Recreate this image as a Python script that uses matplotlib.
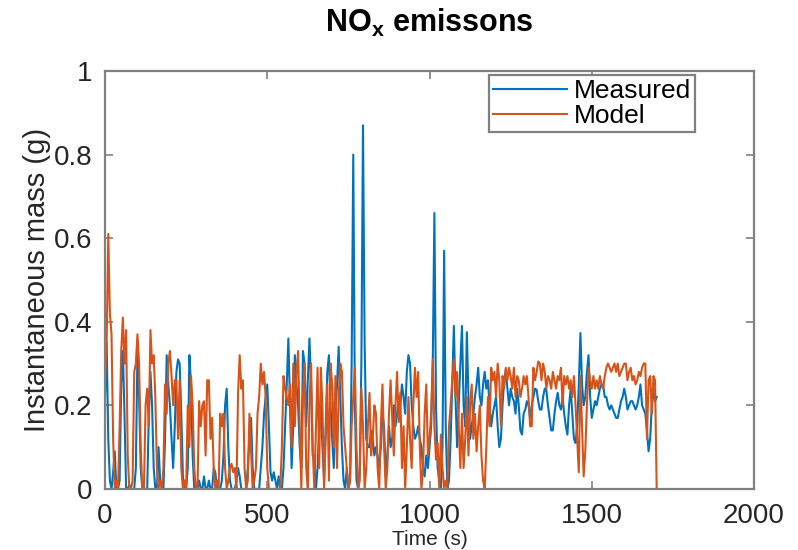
import numpy as np
import matplotlib
matplotlib.use('Agg')
import matplotlib.pyplot as plt

# NOx emissions, sampled every 5 s from 0 to 1700 s
time_step = 5
measured = [
    0.22, 0.35, 0.12, 0.02, 0.0, 0.04, 0.09, 0.0, 0.0, 0.02, 0.25, 0.33, 0.18, 0.0, 0.0, 0.01, 0.0, 0.0, 0.0, 0.05,
    0.33, 0.22, 0.05, 0.0, 0.0, 0.0, 0.0, 0.18, 0.28, 0.2, 0.05, 0.0, 0.0, 0.10, 0.02, 0.0, 0.0, 0.12, 0.32, 0.25,
    0.20, 0.12, 0.05, 0.15, 0.28, 0.31, 0.30, 0.18, 0.03, 0.0, 0.0, 0.05, 0.32, 0.25, 0.08, 0.0, 0.0, 0.0, 0.02, 0.0,
    0.0, 0.03, 0.0, 0.0, 0.02, 0.0, 0.0, 0.05, 0.04, 0.0, 0.0, 0.0, 0.02, 0.08, 0.20, 0.24, 0.10, 0.02, 0.0, 0.0,
    0.0, 0.02, 0.05, 0.03, 0.0, 0.0, 0.0, 0.0, 0.05, 0.12, 0.17, 0.05, 0.0, 0.0, 0.0, 0.0, 0.05, 0.10, 0.18, 0.22,
    0.25, 0.15, 0.04, 0.02, 0.04, 0.02, 0.0, 0.03, 0.0, 0.0, 0.05, 0.15, 0.25, 0.36, 0.20, 0.05, 0.15, 0.32, 0.25, 0.20,
    0.10, 0.05, 0.33, 0.30, 0.15, 0.26, 0.36, 0.25, 0.08, 0.08, 0.0, 0.05, 0.15, 0.20, 0.10, 0.02, 0.15, 0.28, 0.32, 0.20,
    0.12, 0.05, 0.18, 0.25, 0.34, 0.22, 0.10, 0.02, 0.0, 0.05, 0.0, 0.02, 0.30, 0.80, 0.20, 0.02, 0.0, 0.05, 0.30, 0.87,
    0.35, 0.12, 0.10, 0.10, 0.14, 0.12, 0.08, 0.10, 0.08, 0.05, 0.10, 0.18, 0.15, 0.03, 0.08, 0.15, 0.10, 0.12, 0.20, 0.15,
    0.18, 0.22, 0.20, 0.25, 0.22, 0.18, 0.28, 0.32, 0.30, 0.20, 0.15, 0.12, 0.13, 0.15, 0.12, 0.10, 0.05, 0.03, 0.08, 0.05,
    0.10, 0.15, 0.30, 0.66, 0.20, 0.05, 0.02, 0.0, 0.10, 0.57, 0.15, 0.0, 0.02, 0.12, 0.25, 0.39, 0.22, 0.10, 0.20, 0.30,
    0.39, 0.20, 0.15, 0.375, 0.22, 0.12, 0.15, 0.18, 0.22, 0.25, 0.29, 0.22, 0.20, 0.25, 0.28, 0.24, 0.26, 0.20, 0.15, 0.18,
    0.20, 0.22, 0.15, 0.10, 0.12, 0.20, 0.26, 0.285, 0.24, 0.20, 0.24, 0.22, 0.21, 0.18, 0.24, 0.20, 0.14, 0.13, 0.18, 0.19,
    0.21, 0.20, 0.17, 0.20, 0.22, 0.24, 0.237, 0.21, 0.19, 0.19, 0.22, 0.24, 0.237, 0.20, 0.17, 0.14, 0.14, 0.18, 0.21, 0.23,
    0.20, 0.19, 0.22, 0.18, 0.15, 0.13, 0.20, 0.24, 0.18, 0.12, 0.11, 0.15, 0.25, 0.373, 0.25, 0.20, 0.22, 0.28, 0.32, 0.22,
    0.17, 0.19, 0.21, 0.20, 0.22, 0.24, 0.25, 0.25, 0.22, 0.22, 0.20, 0.19, 0.20, 0.19, 0.18, 0.17, 0.17, 0.19, 0.21, 0.22,
    0.24, 0.22, 0.19, 0.20, 0.21, 0.21, 0.20, 0.19, 0.20, 0.22, 0.25, 0.20, 0.19, 0.18, 0.14, 0.09, 0.12, 0.20, 0.24, 0.21,
    0.22,
]
model = [
    0.26, 0.35, 0.61, 0.42, 0.37, 0.12, 0.0, 0.02, 0.0, 0.15, 0.33, 0.41, 0.30, 0.38, 0.08, 0.0, 0.0, 0.02, 0.28, 0.30,
    0.37, 0.30, 0.10, 0.0, 0.0, 0.20, 0.24, 0.15, 0.38, 0.30, 0.32, 0.22, 0.05, 0.0, 0.02, 0.0, 0.05, 0.25, 0.18, 0.30,
    0.33, 0.27, 0.20, 0.26, 0.26, 0.12, 0.26, 0.05, 0.0, 0.02, 0.0, 0.20, 0.10, 0.27, 0.20, 0.05, 0.0, 0.0, 0.21, 0.15,
    0.20, 0.21, 0.08, 0.26, 0.26, 0.12, 0.17, 0.05, 0.0, 0.02, 0.0, 0.18, 0.15, 0.18, 0.05, 0.0, 0.02, 0.05, 0.06, 0.04,
    0.05, 0.0, 0.23, 0.32, 0.24, 0.26, 0.05, 0.0, 0.02, 0.18, 0.09, 0.0, 0.02, 0.05, 0.18, 0.22, 0.30, 0.25, 0.28, 0.22,
    0.05, 0.0, 0.0, 0.0, 0.0, 0.0, 0.0, 0.0, 0.0, 0.10, 0.27, 0.24, 0.22, 0.20, 0.25, 0.10, 0.30, 0.15, 0.28, 0.33,
    0.15, 0.0, 0.22, 0.30, 0.05, 0.0, 0.20, 0.30, 0.10, 0.0, 0.15, 0.29, 0.05, 0.29, 0.20, 0.0, 0.12, 0.25, 0.02, 0.30,
    0.25, 0.10, 0.27, 0.05, 0.22, 0.30, 0.28, 0.15, 0.10, 0.05, 0.0, 0.02, 0.15, 0.22, 0.29, 0.10, 0.0, 0.02, 0.24, 0.15,
    0.0, 0.05, 0.15, 0.23, 0.08, 0.12, 0.20, 0.18, 0.05, 0.0, 0.15, 0.25, 0.10, 0.0, 0.05, 0.18, 0.26, 0.17, 0.08, 0.20,
    0.28, 0.16, 0.23, 0.05, 0.15, 0.0, 0.10, 0.22, 0.12, 0.05, 0.20, 0.29, 0.22, 0.28, 0.10, 0.0, 0.05, 0.18, 0.25, 0.08,
    0.12, 0.18, 0.31, 0.15, 0.07, 0.11, 0.0, 0.13, 0.05, 0.0, 0.02, 0.0, 0.15, 0.20, 0.26, 0.31, 0.22, 0.28, 0.15, 0.05,
    0.18, 0.05, 0.12, 0.22, 0.08, 0.20, 0.25, 0.12, 0.18, 0.09, 0.15, 0.20, 0.08, 0.02, 0.0, 0.10, 0.22, 0.15, 0.29, 0.26,
    0.28, 0.22, 0.30, 0.26, 0.15, 0.27, 0.24, 0.29, 0.26, 0.29, 0.27, 0.24, 0.29, 0.22, 0.27, 0.26, 0.22, 0.24, 0.27, 0.25,
    0.27, 0.22, 0.15, 0.15, 0.29, 0.26, 0.28, 0.305, 0.30, 0.26, 0.30, 0.28, 0.24, 0.27, 0.26, 0.24, 0.28, 0.26, 0.24, 0.27,
    0.26, 0.29, 0.20, 0.27, 0.25, 0.27, 0.24, 0.26, 0.22, 0.27, 0.20, 0.12, 0.04, 0.27, 0.15, 0.03, 0.09, 0.20, 0.29, 0.26,
    0.24, 0.27, 0.24, 0.26, 0.24, 0.27, 0.25, 0.24, 0.27, 0.29, 0.30, 0.29, 0.28, 0.29, 0.30, 0.28, 0.30, 0.27, 0.28, 0.29,
    0.30, 0.30, 0.26, 0.28, 0.29, 0.26, 0.27, 0.25, 0.26, 0.28, 0.27, 0.29, 0.30, 0.30, 0.12, 0.26, 0.27, 0.18, 0.27, 0.26,
    0.0,
]
time = np.arange(len(measured)) * time_step
x_ticks = [0, 500, 1000, 1500, 2000]
y_ticks = [0, 0.2, 0.4, 0.6, 0.8, 1]
y_labels = ['0', '0.2', '0.4', '0.6', '0.8', '1']

plt.rcParams['font.family'] = ['Liberation Sans', 'DejaVu Sans']
plt.rcParams['mathtext.fontset'] = 'custom'
plt.rcParams['mathtext.rm'] = 'Liberation Sans'
plt.rcParams['mathtext.bf'] = 'Liberation Sans:bold'

fig = plt.figure(figsize=(7.98, 5.5), dpi=100)
ax = fig.add_axes([0.1316, 0.111, 0.8133, 0.760])

ax.plot(time, measured, color='#0072BD', lw=1.5, label='Measured')
ax.plot(time, model, color='#D95319', lw=1.5, label='Model')

ax.set_xlim(0, 2000)
ax.set_ylim(0, 1)
ax.set_xticks(x_ticks)
ax.set_yticks(y_ticks)
ax.set_yticklabels(y_labels)
ax.tick_params(direction='in', length=6, width=1.2, color='#808080',
               top=True, right=True, labelsize=20, labelcolor='#262626')
ax.tick_params(axis='y', pad=9)
ax.tick_params(axis='x', pad=10)
for s in ax.spines.values():
    s.set_color('#808080')
    s.set_linewidth(1.6)

ax.set_xlabel('Time (s)', fontsize=15, color='#262626', labelpad=1)
ax.set_ylabel('Instantaneous mass (g)', fontsize=21, color='#262626', labelpad=2)
ax.set_title(r'NO$_\mathbf{x}$ emissons', fontsize=22, fontweight='bold', pad=28)

leg = ax.legend(loc='upper right', bbox_to_anchor=(0.909, 0.99), borderaxespad=0,
                fontsize=19, handlelength=2.8, handletextpad=0.25, borderpad=0.15,
                labelspacing=0.05, fancybox=False, framealpha=1)
leg.get_frame().set_edgecolor('#808080')
leg.get_frame().set_linewidth(1.6)

plt.savefig('out.png', dpi=100)
